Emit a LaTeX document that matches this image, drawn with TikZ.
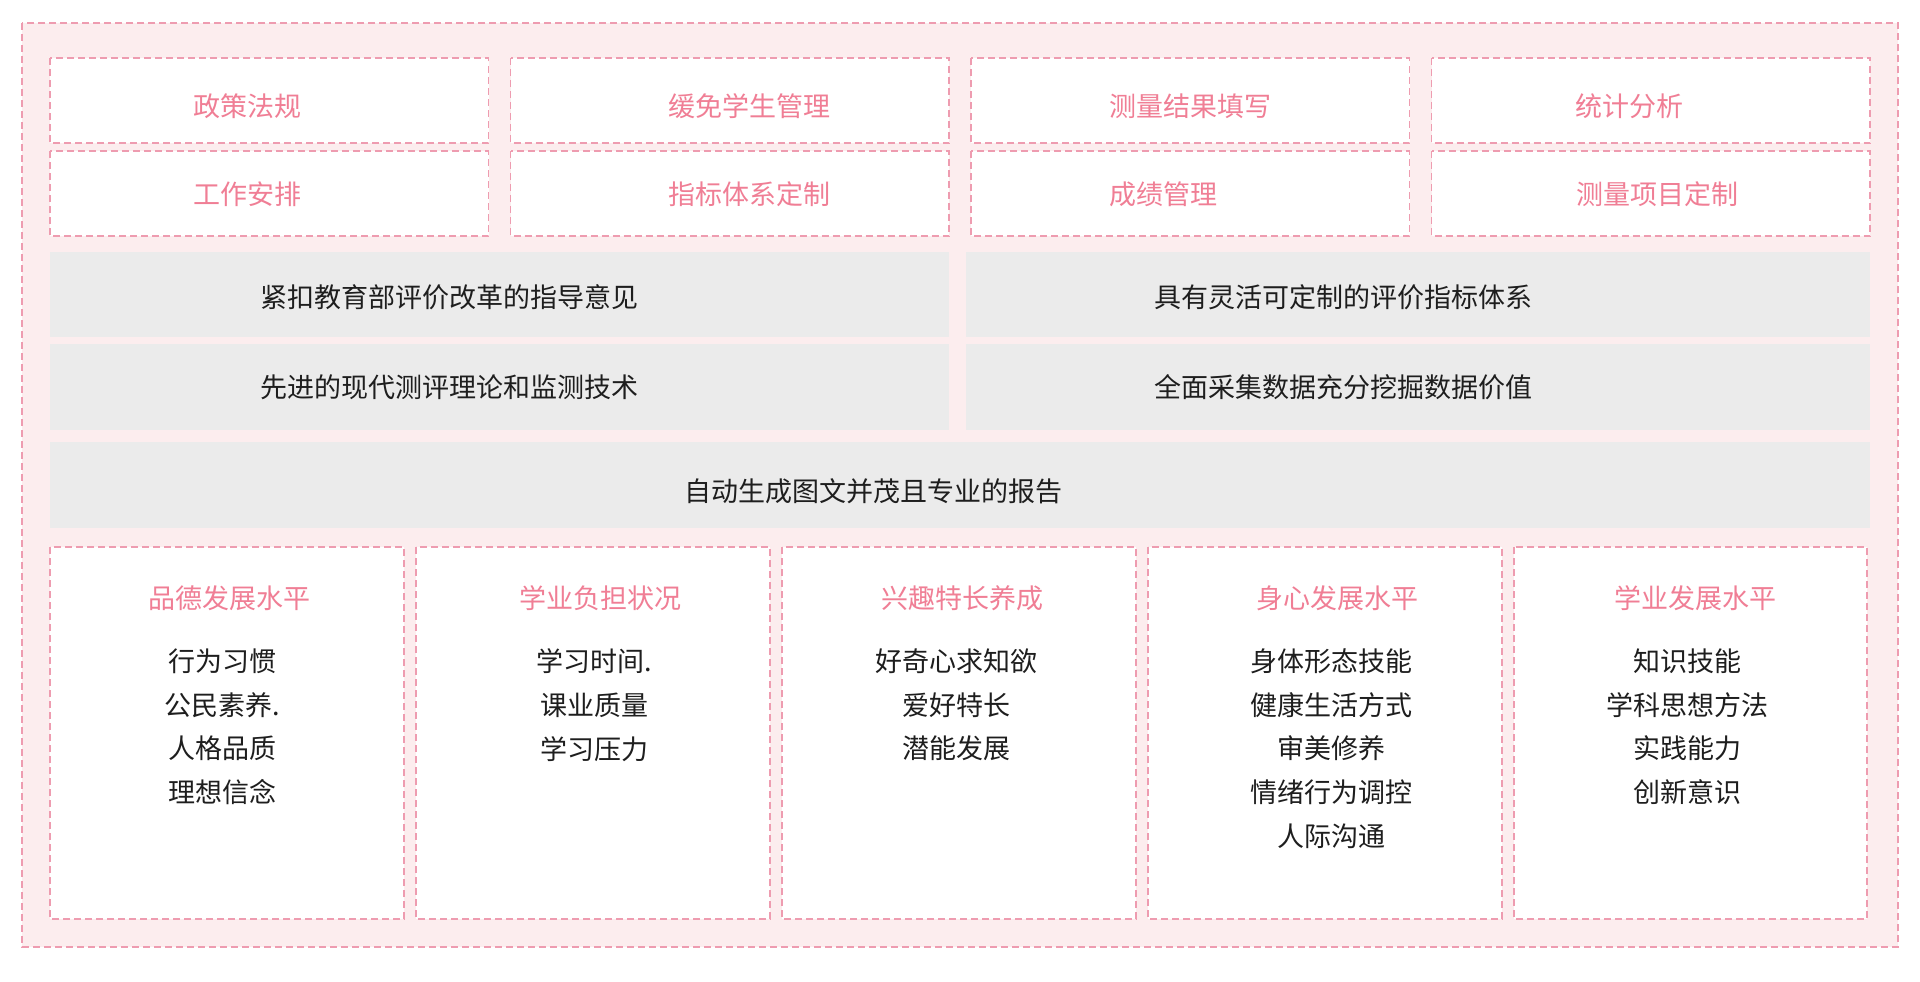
\documentclass[tikz,border=0pt]{standalone}
\usepackage{fontspec}
\setmainfont{Noto Sans CJK SC}
\definecolor{bgpink}{HTML}{FCEDEE}
\definecolor{dashpink}{HTML}{EE9CB0}
\definecolor{txtpink}{HTML}{F07E95}
\definecolor{graybox}{HTML}{EBEBEB}
\definecolor{txtdark}{HTML}{1E1E1E}
\tikzset{
  dbox/.style={draw=dashpink, line width=1.2pt, dash pattern=on 7pt off 4pt},
  whitebox/.style={dbox, fill=white},
  pinklabel/.style={text=txtpink, font=\fontsize{27}{30}\selectfont, inner sep=0pt},
  darklabel/.style={text=txtdark, font=\fontsize{27}{30}\selectfont, inner sep=0pt},
  itemlist/.style={text=txtdark, font=\fontsize{27}{43.7}\selectfont, align=center, inner sep=0pt, anchor=north},
}
\begin{document}
\begin{tikzpicture}[x=1pt,y=-1pt]
\useasboundingbox (0,0) rectangle (1920,982);
% outer
\draw[dbox, fill=bgpink] (22,23) rectangle (1898,947);
% top grid
\foreach \i/\xa/\xb in {1/50/488.5, 2/510.5/949, 3/971/1409.5, 4/1431.5/1870}{
  \draw[whitebox] (\xa,58) rectangle (\xb,143);
  \draw[whitebox] (\xa,151) rectangle (\xb,236);
}
\node[pinklabel] (t1) at (247,106) {政策法规};
\node[pinklabel] (t2) at (749,106) {缓免学生管理};
\node[pinklabel] (t3) at (1190,106) {测量结果填写};
\node[pinklabel] (t4) at (1629,106) {统计分析};
\node[pinklabel] (t5) at (247,194) {工作安排};
\node[pinklabel] (t6) at (749,194) {指标体系定制};
\node[pinklabel] (t7) at (1163,194) {成绩管理};
\node[pinklabel] (t8) at (1657,194) {测量项目定制};
% gray rows
\fill[graybox] (50,252) rectangle (949,337);
\fill[graybox] (966,252) rectangle (1870,337);
\fill[graybox] (50,344) rectangle (949,430);
\fill[graybox] (966,344) rectangle (1870,430);
\fill[graybox] (50,442) rectangle (1870,528);
\node[darklabel] (g1) at (449,297) {紧扣教育部评价改革的指导意见};
\node[darklabel] (g2) at (1343,297) {具有灵活可定制的评价指标体系};
\node[darklabel] (g3) at (449,387) {先进的现代测评理论和监测技术};
\node[darklabel] (g4) at (1343,387) {全面采集数据充分挖掘数据价值};
\node[darklabel] (g5) at (873,491) {自动生成图文并茂且专业的报告};
% bottom cards
\foreach \xa/\xb in {50/404, 416/770, 782/1136, 1148/1502, 1514/1867}{
  \draw[whitebox] (\xa,547) rectangle (\xb,919);
}
\node[pinklabel] (c1) at (229,598) {品德发展水平};
\node[pinklabel] (c2) at (600,598) {学业负担状况};
\node[pinklabel] (c3) at (962,598) {兴趣特长养成};
\node[pinklabel] (c4) at (1337,598) {身心发展水平};
\node[pinklabel] (c5) at (1695,598) {学业发展水平};
\node[itemlist] (l1) at (222,648.5) {行为习惯\\公民素养.\\人格品质\\理想信念};
\node[itemlist] (l2) at (594,648.5) {学习时间.\\课业质量\\学习压力};
\node[itemlist] (l3) at (956,648.5) {好奇心求知欲\\爱好特长\\潜能发展};
\node[itemlist] (l4) at (1331,648.5) {身体形态技能\\健康生活方式\\审美修养\\情绪行为调控\\人际沟通};
\node[itemlist] (l5) at (1687,648.5) {知识技能\\学科思想方法\\实践能力\\创新意识};
\end{tikzpicture}
\end{document}
